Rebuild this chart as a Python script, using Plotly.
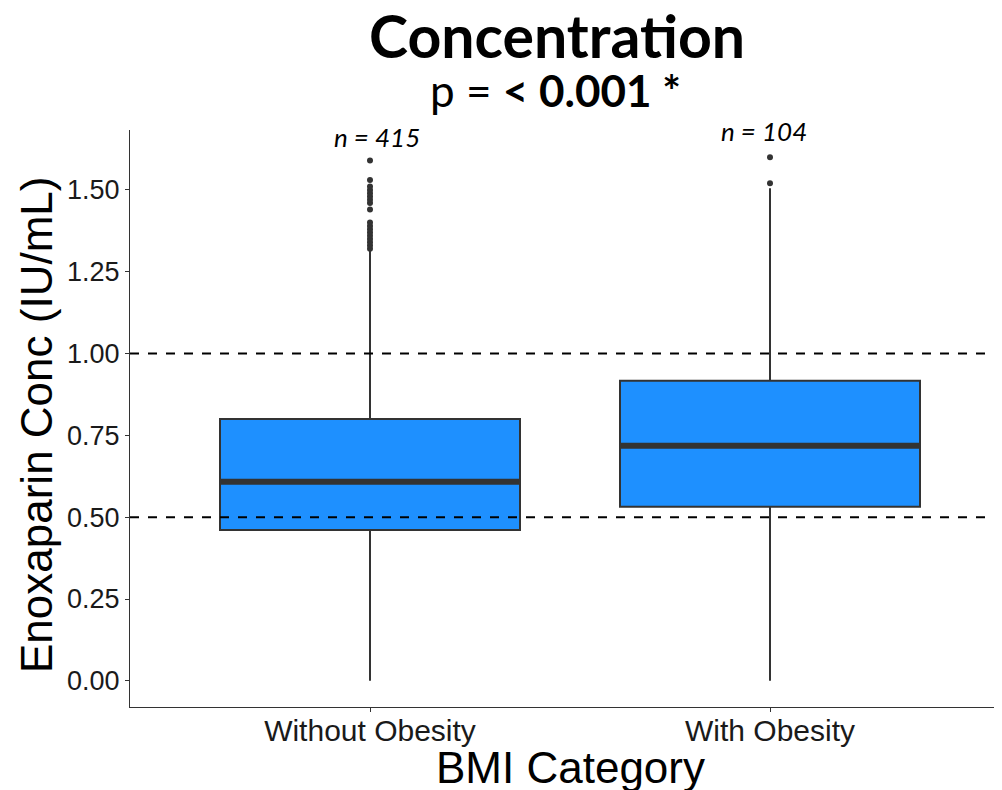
import plotly.graph_objects as go

categories = ["Without Obesity", "With Obesity"]
n_labels = ["n = 415", "n = 104"]
q1 = [0.461, 0.532]
medians = [0.608, 0.718]
q3 = [0.800, 0.917]
lower_fence = [0.0, 0.0]
upper_fence = [1.315, 1.505]
outliers = [
    [1.32, 1.33, 1.34, 1.35, 1.36, 1.37, 1.38, 1.39, 1.40, 1.44, 1.46, 1.47,
     1.48, 1.49, 1.50, 1.51, 1.53, 1.59],
    [1.52, 1.60],
]
n_label_y = [1.661, 1.679]
ref_lines = [0.5, 1.0]
y_ticks = [0.0, 0.25, 0.5, 0.75, 1.0, 1.25, 1.5]

# page body has an 8px default margin; plot area spans page x 130..1002+, y 130..707
PL, PT, PW, PH = 130, 130, 872, 577


def px(xp):
    return (xp - PL) / PW


def py(yp):
    return (PT + PH - yp) / PH


BOX_W = 0.75
label_shift = [7, -6]
fig = go.Figure()
for i, cat in enumerate(categories):
    fig.add_trace(go.Box(
        x=[i], q1=[q1[i]], median=[medians[i]], q3=[q3[i]],
        lowerfence=[lower_fence[i]], upperfence=[upper_fence[i]],
        width=BOX_W, whiskerwidth=0, boxpoints=False,
        fillcolor="#1E90FF", line=dict(color="#333333", width=2),
        showlegend=False, hoverinfo="skip",
    ))
    fig.add_trace(go.Scatter(
        x=[i - BOX_W / 2, i + BOX_W / 2], y=[medians[i], medians[i]],
        mode="lines", line=dict(color="#333333", width=6),
        showlegend=False, hoverinfo="skip",
    ))
    fig.add_trace(go.Scatter(
        x=[i] * len(outliers[i]), y=outliers[i], mode="markers",
        marker=dict(color="#333333", size=6),
        showlegend=False, hoverinfo="skip",
    ))
    fig.add_annotation(
        x=i, y=n_label_y[i], text=f"<i>{n_labels[i]}</i>", showarrow=False,
        font=dict(family="Lato, Open Sans, sans-serif", size=26, color="black"),
        yanchor="middle", xshift=label_shift[i],
    )

for v in ref_lines:
    fig.add_shape(type="line", xref="paper", x0=0, x1=1, yref="y", y0=v, y1=v,
                  line=dict(color="black", width=2, dash="9px,9px"), layer="above")

fig.add_annotation(
    xref="paper", yref="paper", x=px(557), y=py(35),
    text="<b>Concentration</b>", showarrow=False, yanchor="middle",
    font=dict(family="Lato, Open Sans, sans-serif", size=59, color="black"),
)
fig.add_annotation(
    xref="paper", yref="paper", x=px(555), y=py(90),
    text="p = <b>< 0.001 *</b>", showarrow=False, yanchor="middle",
    font=dict(family="Lato, Open Sans, sans-serif", size=44, color="black"),
)
fig.add_annotation(
    xref="paper", yref="paper", x=px(570), y=py(767),
    text="BMI Category", showarrow=False, yanchor="middle", xanchor="center",
    font=dict(family="Liberation Sans, Arial, sans-serif", size=44, color="black"),
)
fig.add_annotation(
    xref="paper", yref="paper", x=px(36), y=py(425), textangle=-90,
    text="Enoxaparin Conc (IU/mL)", showarrow=False, yanchor="middle", xanchor="center",
    font=dict(family="Liberation Sans, Arial, sans-serif", size=44, color="black"),
)

fig.update_layout(
    width=994, height=782,
    margin=dict(l=122, r=0, t=122, b=83),
    paper_bgcolor="white", plot_bgcolor="white",
    font=dict(family="Liberation Sans, Arial, sans-serif", color="black"),
    xaxis=dict(
        range=[-0.6, 1.58], tickmode="array", tickvals=[0, 1], ticktext=categories,
        showgrid=False, zeroline=False, showline=True, linecolor="#333333", linewidth=1,
        ticks="outside", ticklen=4, tickcolor="#333333", ticklabelstandoff=-7,
        tickfont=dict(size=30, color="#1a1a1a"),
    ),
    yaxis=dict(
        range=[-0.08, 1.683], tickmode="array", tickvals=y_ticks,
        ticktext=[f"{t:.2f}" for t in y_ticks],
        showgrid=False, zeroline=False, showline=True, linecolor="#333333", linewidth=1,
        ticks="outside", ticklen=4, tickcolor="#333333",
        tickfont=dict(size=27, color="#1a1a1a"),
    ),
)

fig.write_html("out.html")
